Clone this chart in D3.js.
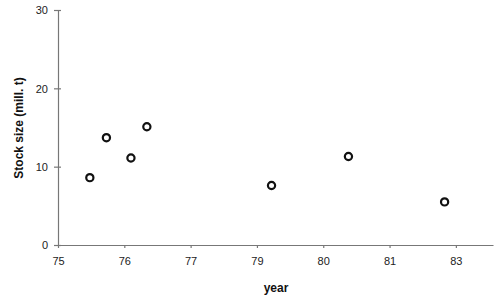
<!DOCTYPE html>
<meta charset="utf-8">
<head>
    <style>
        body {margin: 0; background: #fff;}
        text {font-family: "Liberation Sans", Arial, sans-serif; fill: #222;}
        .axis path, .axis line {stroke: #777; stroke-width: 1.2px;}
        .axis text {font-size: 11px;}
        .title {font-weight: bold; font-size: 12px; fill: #111;}
        circle {fill: #fff; stroke: #111; stroke-width: 2.2px;}
    </style>
    <script src="https://d3js.org/d3.v7.min.js"></script>
</head>
<body>
</body>

<script>

    // tick positions on the axis and the labels printed under them
    var xTicks = [75, 76, 77, 78, 79, 80, 81],
        xTickLabels = ["75", "76", "77", "79", "80", "81", "83"],
        yTicks = [0, 10, 20, 30];

    // points, x in axis units
    var years = [75.48, 75.73, 76.10, 76.34, 78.22, 79.38, 80.83],
        stock = [8.6, 13.7, 11.1, 15.1, 7.6, 11.3, 5.5];

    var margin = {top: 10, right: 7, bottom: 57, left: 58},
        width = 500 - margin.left - margin.right,
        height = 302 - margin.top - margin.bottom;

    var x = d3.scaleLinear()
        .domain([75, 81.56])
        .range([0, width]);

    var y = d3.scaleLinear()
        .domain([0, 30])
        .range([height, 0]);

    var svg = d3.select("body").append("svg")
        .attr("width", 500)
        .attr("height", 302)
      .append("g")
        .attr("transform", "translate(" + margin.left + "," + margin.top + ")");

    var xAxis = svg.append("g")
        .attr("class", "axis")
        .attr("transform", "translate(0," + height + ")")
        .call(d3.axisBottom(x)
            .tickValues(xTicks)
            .tickFormat(function(d, i) {return xTickLabels[i];})
            .tickSize(3)
            .tickSizeOuter(0)
            .tickPadding(9));

    var yAxis = svg.append("g")
        .attr("class", "axis")
        .call(d3.axisLeft(y)
            .tickValues(yTicks)
            .tickSize(4)
            .tickSizeOuter(0)
            .tickPadding(6));

    // the y ticks cross the axis line
    yAxis.selectAll(".tick line").attr("x2", 3).attr("x1", -4);
    yAxis.selectAll(".tick text").attr("dy", "0.35em");

    svg.selectAll("circle")
        .data(years)
      .enter().append("circle")
        .attr("cx", function(d) {return x(d);})
        .attr("cy", function(d, i) {return y(stock[i]);})
        .attr("r", 3.6);

    svg.append("text")
        .attr("class", "title")
        .attr("text-anchor", "middle")
        .attr("transform", "translate(" + (276 - margin.left) + "," + (292 - margin.top) + ")")
        .text("year");

    svg.append("text")
        .attr("class", "title")
        .attr("text-anchor", "middle")
        .attr("transform", "translate(" + (-35) + "," + (128 - margin.top) + ") rotate(-90)")
        .text("Stock size (mill. t)");

</script>
